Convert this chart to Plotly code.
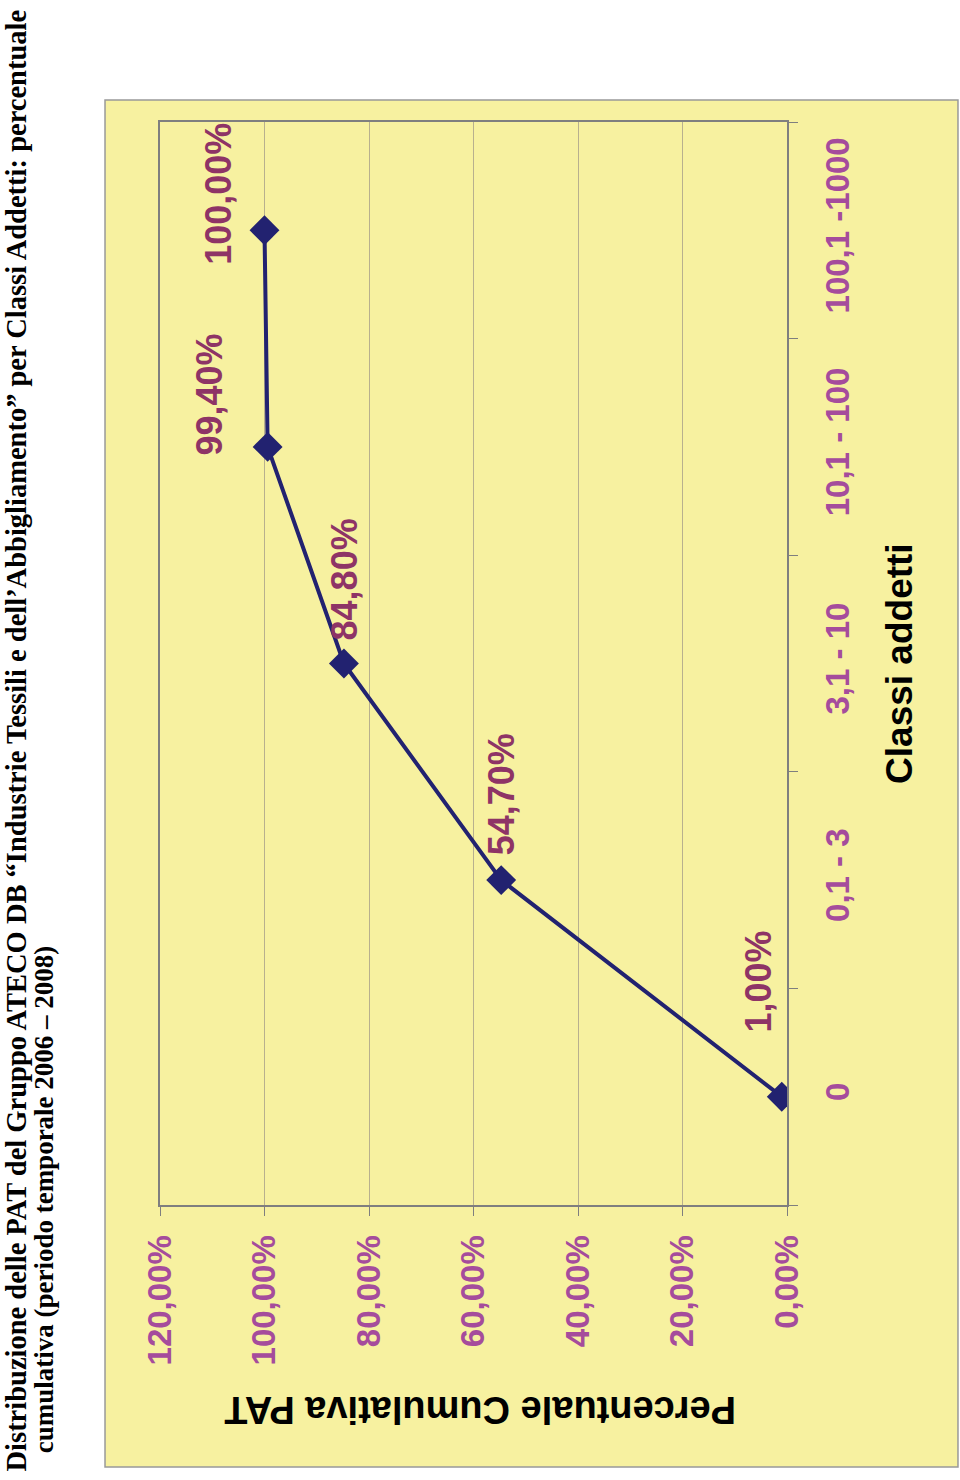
import plotly.graph_objects as go

# ---- data ----
categories = ["0", "0,1 - 3", "3,1 - 10", "10,1 - 100", "100,1 -1000"]
cumulative_pct = [1.00, 54.70, 84.80, 99.40, 100.00]
point_labels = ["1,00%", "54,70%", "84,80%", "99,40%", "100,00%"]
value_ticks = [0, 20, 40, 60, 80, 100, 120]
value_tick_labels = ["0,00%", "20,00%", "40,00%", "60,00%", "80,00%", "100,00%", "120,00%"]

title_line1 = "Distribuzione delle PAT del Gruppo ATECO DB \u201cIndustrie Tessili e dell\u2019Abbigliamento\u201d per Classi Addetti: percentuale"
title_line2 = "cumulativa (periodo temporale 2006 \u2013 2008)"
value_axis_title = "Percentuale Cumulativa PAT"
category_axis_title = "Classi addetti"

# ---- style ----
YELLOW = "#F7F1A0"
TICK_COLOR = "#A54C9C"
LABEL_COLOR = "#8E3466"
LINE_COLOR = "#222270"
GRID = "#B8B08E"
BORDER = "#7F7F7F"
SANS = "Liberation Sans, Arial, sans-serif"
SERIF = "Liberation Serif, Times New Roman, serif"

# label shifts in pixels (x right, y up) relative to each point
label_shift = [(-23, 115), (0, 86), (1, 84), (-58, 52), (-46, 36)]

fig = go.Figure()
fig.add_trace(go.Scatter(
    x=cumulative_pct, y=categories, mode="lines+markers",
    line=dict(color=LINE_COLOR, width=4),
    marker=dict(symbol="diamond", size=23, color=LINE_COLOR),
    hoverinfo="skip", showlegend=False,
))

annotations = []
for v, c, t, (dx, dy) in zip(cumulative_pct, categories, point_labels, label_shift):
    annotations.append(dict(
        x=v, y=c, xref="x", yref="y", text=t, showarrow=False, textangle=-90,
        xanchor="center", yanchor="middle", xshift=dx, yshift=dy,
        font=dict(family=SANS, size=36, color=LABEL_COLOR, weight="bold"),
    ))

annotations += [
    dict(x=1.1802, y=0.5005, xref="paper", yref="paper", text=category_axis_title,
         showarrow=False, textangle=-90, xanchor="center", yanchor="middle",
         font=dict(family=SANS, size=37, color="black", weight="bold")),
    dict(x=0.5104, y=-0.1893, xref="paper", yref="paper", text=value_axis_title,
         showarrow=False, textangle=180, xanchor="center", yanchor="middle",
         font=dict(family=SANS, size=38, color="black", weight="bold")),
    dict(x=-0.229, y=-0.2475, xref="paper", yref="paper", text=title_line1,
         showarrow=False, textangle=-90, xanchor="center", yanchor="bottom",
         font=dict(family=SERIF, size=28.5, color="black", weight="bold")),
    dict(x=-0.1844, y=-0.2308, xref="paper", yref="paper", text=title_line2,
         showarrow=False, textangle=-90, xanchor="center", yanchor="bottom",
         font=dict(family=SERIF, size=27, color="black", weight="bold")),
]

fig.update_layout(
    width=960, height=1480,
    margin=dict(l=160, r=173, t=122, b=275, autoexpand=False),
    paper_bgcolor="white", plot_bgcolor=YELLOW,
    annotations=annotations,
    shapes=[dict(type="rect", xref="paper", yref="paper",
                 x0=-0.0877, x1=1.2727, y0=-0.2419, y1=1.0203,
                 fillcolor=YELLOW, line=dict(color="#999999", width=1.5), layer="below")],
    xaxis=dict(
        range=[120, 0], tickvals=value_ticks, ticktext=value_tick_labels,
        tickangle=-90, showgrid=True, gridcolor=GRID, gridwidth=1,
        showline=True, linecolor=BORDER, linewidth=2, mirror=True,
        ticks="outside", ticklen=9, tickcolor=BORDER, tickwidth=1,
        ticklabelstandoff=6, zeroline=False, automargin=False,
        tickfont=dict(family=SANS, size=33, color=TICK_COLOR, weight="bold"),
    ),
    yaxis=dict(
        type="category", categoryorder="array", categoryarray=categories,
        range=[-0.5, 4.5], side="right", tickangle=-90, showgrid=False,
        showline=True, linecolor=BORDER, linewidth=2, mirror=True,
        ticks="outside", tickson="boundaries", ticklen=9, tickcolor=BORDER, tickwidth=1,
        ticklabelstandoff=20, automargin=False,
        tickfont=dict(family=SANS, size=33, color=TICK_COLOR, weight="bold"),
    ),
)

fig.write_html("out.html")
